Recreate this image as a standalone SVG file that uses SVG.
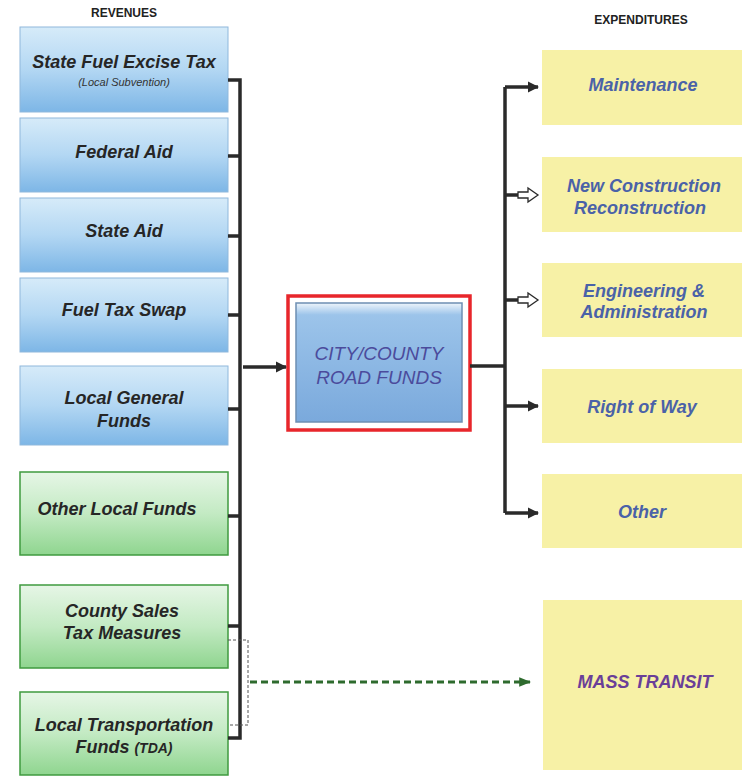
<svg xmlns="http://www.w3.org/2000/svg" width="742" height="778" viewBox="0 0 742 778">
<defs>
<linearGradient id="gb" x1="0" y1="0" x2="0" y2="1">
<stop offset="0" stop-color="#d6ebf9"/><stop offset="0.5" stop-color="#b3d7f3"/><stop offset="1" stop-color="#7db6e6"/>
</linearGradient>
<linearGradient id="gg" x1="0" y1="0" x2="0" y2="1">
<stop offset="0" stop-color="#e6f6e6"/><stop offset="0.5" stop-color="#c3eac3"/><stop offset="1" stop-color="#8fd58f"/>
</linearGradient>
<linearGradient id="gc" x1="0" y1="0" x2="0" y2="1">
<stop offset="0" stop-color="#eef5fb"/><stop offset="0.1" stop-color="#9cc4ea"/><stop offset="1" stop-color="#7aa9dc"/>
</linearGradient>
<marker id="af" viewBox="0 0 10 10" refX="9" refY="5" markerWidth="3.2" markerHeight="3.2" orient="auto" markerUnits="strokeWidth">
<path d="M0,0 L10,5 L0,10 Z" fill="#2a2a2a"/>
</marker>
<marker id="ag" viewBox="0 0 10 10" refX="9" refY="5" markerWidth="4" markerHeight="4" orient="auto" markerUnits="strokeWidth">
<path d="M0,1 L10,5 L0,9 Z" fill="#2e6b2e"/>
</marker>
</defs>
<style>
.hd{font-family:"Liberation Sans",Arial,sans-serif;font-weight:bold;font-size:12px;fill:#222;text-anchor:middle}
.rv{font-family:"Liberation Sans",Arial,sans-serif;font-weight:bold;font-style:italic;font-size:18px;fill:#262626;text-anchor:middle}
.sub{font-family:"Liberation Sans",Arial,sans-serif;font-style:italic;font-size:11px;fill:#333;text-anchor:middle}
.ex{font-family:"Liberation Sans",Arial,sans-serif;font-weight:bold;font-style:italic;font-size:18px;fill:#4a62a8;text-anchor:middle}
.ct{font-family:"Liberation Sans",Arial,sans-serif;font-style:italic;font-size:19px;fill:#4b4b9c;text-anchor:middle}
.bb{fill:url(#gb);stroke:#8fb8dc;stroke-width:1}
.bg{fill:url(#gg);stroke:#3f9a3f;stroke-width:1.5}
.by{fill:#f7f1a6}
.ln{fill:none;stroke:#2a2a2a;stroke-width:3.5}
.ha{fill:#fff;stroke:#2a2a2a;stroke-width:1.3}
</style>
<text class="hd" x="124" y="17">REVENUES</text>
<text class="hd" x="641" y="24">EXPENDITURES</text>

<g id="rev1"><rect class="bb" x="20" y="27" width="208" height="85"/><text class="rv" x="124" y="68">State Fuel Excise Tax</text><text class="sub" x="124" y="86">(Local Subvention)</text></g>
<g id="rev2"><rect class="bb" x="20" y="118" width="208" height="74"/><text class="rv" x="124" y="158">Federal Aid</text></g>
<g id="rev3"><rect class="bb" x="20" y="198" width="208" height="74"/><text class="rv" x="124" y="237">State Aid</text></g>
<g id="rev4"><rect class="bb" x="20" y="278" width="208" height="74"/><text class="rv" x="124" y="316">Fuel Tax Swap</text></g>
<g id="rev5"><rect class="bb" x="20" y="366" width="208" height="79"/><text class="rv" x="124" y="404">Local General</text><text class="rv" x="124" y="427">Funds</text></g>
<g id="rev6"><rect class="bg" x="20" y="472" width="208" height="83"/><text class="rv" x="117" y="515">Other Local Funds</text></g>
<g id="rev7"><rect class="bg" x="20" y="585" width="208" height="83"/><text class="rv" x="122" y="617">County Sales</text><text class="rv" x="122" y="639">Tax Measures</text></g>
<g id="rev8"><rect class="bg" x="20" y="692" width="208" height="83"/><text class="rv" x="124" y="731">Local Transportation</text><text class="rv" x="124" y="753">Funds <tspan font-size="14">(TDA)</tspan></text></g>

<g id="center">
<rect x="288" y="296" width="182" height="134" fill="#fff" stroke="#e8262b" stroke-width="3.5"/>
<rect x="296" y="303" width="166" height="119" fill="url(#gc)" stroke="#6d8fb3" stroke-width="1.5"/>
<text class="ct" x="379" y="360">CITY/COUNTY</text>
<text class="ct" x="379" y="384">ROAD FUNDS</text>
</g>

<g id="exp1"><rect class="by" x="542" y="50" width="200" height="75"/><text class="ex" x="643" y="91">Maintenance</text></g>
<g id="exp2"><rect class="by" x="542" y="157" width="200" height="75"/><text class="ex" x="644" y="192">New Construction</text><text class="ex" x="640" y="214">Reconstruction</text></g>
<g id="exp3"><rect class="by" x="542" y="263" width="200" height="74"/><text class="ex" x="644" y="297">Engineering &amp;</text><text class="ex" x="644" y="318">Administration</text></g>
<g id="exp4"><rect class="by" x="542" y="369" width="200" height="74"/><text class="ex" x="642" y="413">Right of Way</text></g>
<g id="exp5"><rect class="by" x="542" y="474" width="200" height="74"/><text class="ex" x="642" y="518">Other</text></g>
<g id="exp6"><rect class="by" x="543" y="600" width="199" height="170"/><text class="ex" x="645" y="688" style="fill:#6a3f98">MASS TRANSIT</text></g>

<g id="connectors">
<path class="ln" d="M228,80 H240 V738 H228"/>
<path class="ln" d="M228,156 H240 M228,236 H240 M228,315 H240 M228,409 H240 M228,516 H240 M228,626 H240"/>
<path class="ln" d="M243,367 H286" marker-end="url(#af)"/>
<path class="ln" d="M470,366 H505"/>
<path class="ln" d="M505,87 V513"/>
<path class="ln" d="M505,87 H538" marker-end="url(#af)"/>
<path class="ln" d="M505,406 H538" marker-end="url(#af)"/>
<path class="ln" d="M505,513 H538" marker-end="url(#af)"/>
<path class="ln" d="M505,195 H520"/>
<path class="ln" d="M505,300 H520"/>
<path class="ha" d="M518,192 H528 V188 L538,195 L528,202 V198 H518 Z"/>
<path class="ha" d="M518,297 H528 V293 L538,300 L528,307 V303 H518 Z"/>
<path d="M228,640 H248 V725 H228" fill="none" stroke="#555" stroke-width="1" stroke-dasharray="3,2"/>
<path d="M250,682 H530" fill="none" stroke="#2e6b2e" stroke-width="3" stroke-dasharray="7,4" marker-end="url(#ag)"/>
</g>
</svg>
